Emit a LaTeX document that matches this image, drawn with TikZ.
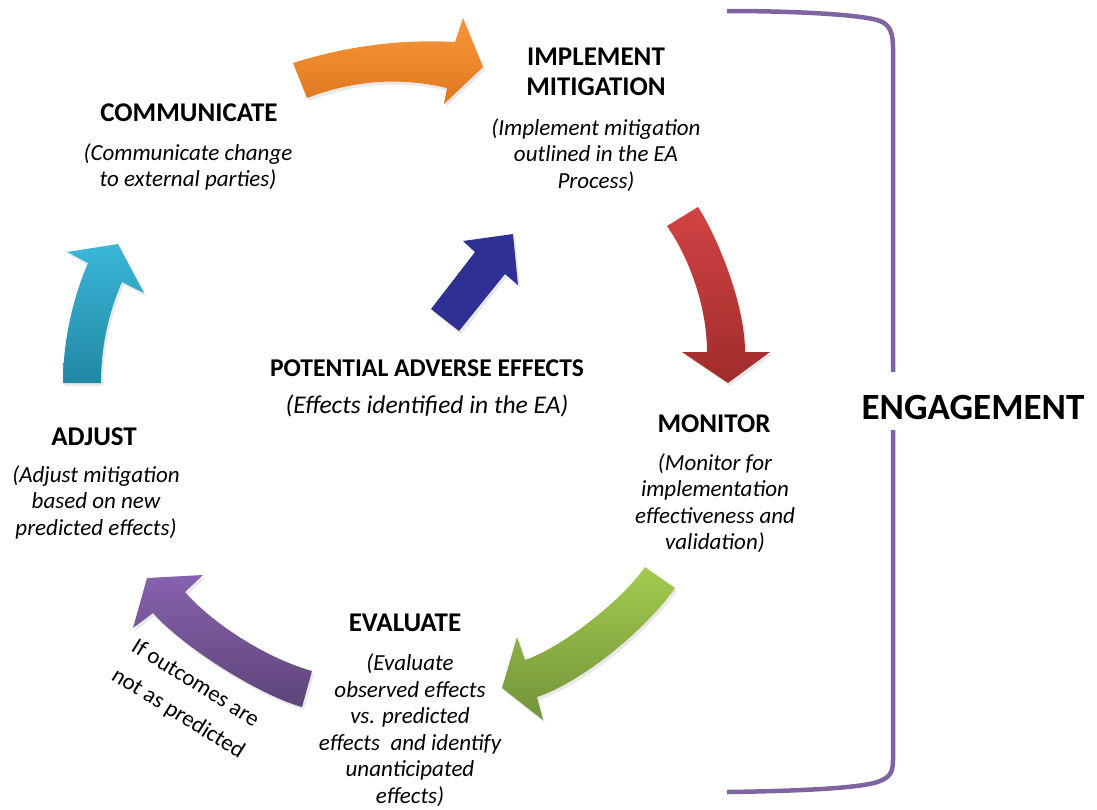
\documentclass[tikz,border=0pt]{standalone}
\usepackage{fontspec}
\setmainfont{Carlito}
\usetikzlibrary{shadows}
\definecolor{orangeT}{HTML}{F9963A}
\definecolor{orangeB}{HTML}{DE781E}
\definecolor{redT}{HTML}{D24343}
\definecolor{redB}{HTML}{A02C2C}
\definecolor{greenT}{HTML}{A3CB4E}
\definecolor{greenB}{HTML}{72933A}
\definecolor{purpT}{HTML}{8762AE}
\definecolor{purpB}{HTML}{5E4479}
\definecolor{cyanT}{HTML}{3AB7DA}
\definecolor{cyanB}{HTML}{2388A4}
\definecolor{navy}{HTML}{2E3193}
\definecolor{brk}{HTML}{8064A2}
\begin{document}
\begin{tikzpicture}[x=1pt,y=-1pt,
  head/.style={font=\fontsize{27}{30}\selectfont\bfseries, align=center, inner sep=0pt},
  desc/.style={font=\fontsize{23}{26.5}\selectfont\itshape, align=center, inner sep=0pt},
  plain/.style={font=\fontsize{23}{28}\selectfont, inner sep=0pt, rotate=-32},
  blockarrow/.style={drop shadow={shadow xshift=2pt,shadow yshift=-3pt,opacity=0.18}},
  bracketline/.style={draw=brk, line width=4.5pt}]
\useasboundingbox[fill=white] (0,0) rectangle (1097,809);

% bracket
\draw[bracketline] (727,11) .. controls (800,11) and (865,15) .. (880,21) .. controls (890,25) and (893,33) .. (893,48) -- (893,372);
\draw[bracketline] (893,430) -- (893,760) .. controls (893,772) and (890,777) .. (880,781) .. controls (865,788) and (800,791) .. (727,792);

% orange arrow
\path[blockarrow, top color=orangeT, bottom color=orangeB]
  (293,63) .. controls (347,46) and (401,39) .. (455,42) -- (463,18) -- (483,67) -- (444,104) -- (447,88)
  .. controls (400,77) and (354,80) .. (307,98) -- cycle;
% red arrow
\path[blockarrow, top color=redT, bottom color=redB]
  (667,226) -- (698,207) .. controls (718,238) and (745,305) .. (745,352) -- (770,352) -- (728,383) -- (682,352) -- (707,352)
  .. controls (707,305) and (688,256) .. (667,226) -- cycle;
% green arrow
\path[blockarrow, top color=greenT, bottom color=greenB]
  (645,567) -- (675,588) .. controls (646,629) and (584,681) .. (537,697) -- (543,720) -- (502,688) -- (517,637) -- (525,660)
  .. controls (563,647) and (622,600) .. (645,567) -- cycle;
% purple arrow
\path[blockarrow, top color=purpT, bottom color=purpB]
  (312,671) .. controls (269,659) and (215,626) .. (185,592) -- (203,575) -- (147,578) -- (133,628) -- (153,613)
  .. controls (183,647) and (259,695) .. (302,707) -- cycle;
% cyan arrow
\path[blockarrow, top color=cyanT, bottom color=cyanB]
  (63,383) .. controls (63,343) and (72,300) .. (88,263) -- (67,252) -- (118,244) -- (144,293) -- (122,282)
  .. controls (108,314) and (101,348) .. (101,383) -- cycle;
% navy arrow
\path[blockarrow, fill=navy]
  (431,309) -- (475,252) -- (463,241) -- (513,234) -- (518,285) -- (505,274) -- (459,331) -- cycle;

% texts
\node[head] (impl) at (596,72) {IMPLEMENT\\MITIGATION};
\node[desc] (impld) at (596,155) {(Implement mitigation\\outlined in the EA\\Process)};
\node[head] (comm) at (189,113) {COMMUNICATE};
\node[desc] (commd) at (188,167) {(Communicate change\\to external parties)};
\node[head, font=\fontsize{25.6}{30}\selectfont\bfseries] (pot) at (427,368) {POTENTIAL ADVERSE EFFECTS};
\node[desc, font=\fontsize{25.5}{30}\selectfont\itshape] (potd) at (427,406) {(Effects identified in the EA)};
\node[head] (mon) at (714,424) {MONITOR};
\node[desc] (mond) at (715,503) {(Monitor for\\implementation\\effectiveness and\\validation)};
\node[head] (adj) at (94,437) {ADJUST};
\node[desc] (adjd) at (96,502) {(Adjust mitigation\\based on new\\predicted effects)};
\node[head] (eva) at (405,623) {EVALUATE};
\node[desc] (evad) at (410,730) {(Evaluate\\observed effects\\vs. predicted\\effects\ \ and identify\\unanticipated\\effects)};
\node[plain] (ifo1) at (196,682) {If outcomes are};
\node[plain] (ifo2) at (178,714) {not as predicted};
\node[font=\fontsize{37}{40}\selectfont\bfseries, inner sep=0pt] (eng) at (973,407) {ENGAGEMENT};
\end{tikzpicture}
\end{document}
